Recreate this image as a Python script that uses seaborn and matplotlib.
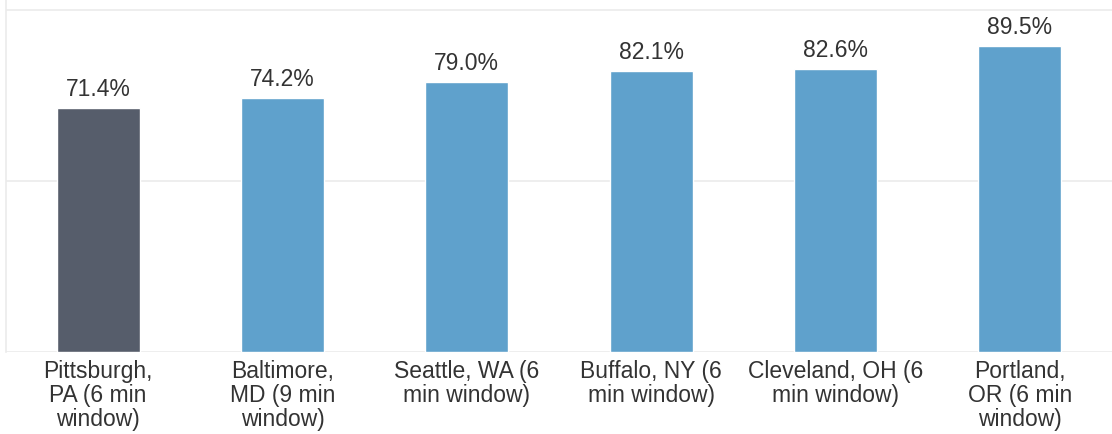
import matplotlib
matplotlib.use("Agg")
import matplotlib.pyplot as plt
import pandas as pd
import seaborn as sns
from matplotlib.ticker import FixedLocator

cities = [
    "Pittsburgh,\nPA (6 min\nwindow)",
    "Baltimore,\nMD (9 min\nwindow)",
    "Seattle, WA (6\nmin window)",
    "Buffalo, NY (6\nmin window)",
    "Cleveland, OH (6\nmin window)",
    "Portland,\nOR (6 min\nwindow)",
]
rates = [71.4, 74.2, 79.0, 82.1, 82.6, 89.5]
highlight = ["yes", "no", "no", "no", "no", "no"]

TEXT = "#333333"
GRID = "#ebebeb"
FS = 16.5

sns.set_theme(style="white")
plt.rcParams["font.family"] = ["Liberation Sans", "DejaVu Sans"]

df = pd.DataFrame({"city": cities, "rate": rates, "highlight": highlight})

fig = plt.figure(figsize=(11.12, 4.34), dpi=100)
ax = fig.add_axes([6 / 1112, 82 / 434, 1 - 6 / 1112, 352 / 434])

sns.barplot(
    data=df, x="city", y="rate", hue="highlight",
    palette={"yes": "#565d6b", "no": "#5fa1cc"}, saturation=1,
    width=0.45, dodge=False, legend=False, ax=ax, zorder=3,
)

for c in ax.containers:
    ax.bar_label(c, labels=[f"{v:.1f}%" for v in c.datavalues],
                 padding=5, fontsize=FS, color=TEXT)

ax.set_ylim(0, 102.9)
ax.set_xlim(-0.5, len(cities) - 0.5)
ax.set_yticks([0, 50, 100])
ax.yaxis.grid(True, color=GRID, linewidth=1.2, zorder=0)
ax.set_yticklabels([])
ax.tick_params(axis="y", length=0)
ax.xaxis.set_minor_locator(FixedLocator([i - 0.5 for i in range(len(cities) + 1)]))
ax.tick_params(axis="x", which="major", length=0, pad=6, labelsize=FS, labelcolor=TEXT)
ax.tick_params(axis="x", which="minor", length=10, color=GRID, width=1.2, direction="out")
for lbl in ax.get_xticklabels():
    lbl.set_linespacing(1.05)
ax.set_xlabel("")
ax.set_ylabel("")

for side in ["top", "right", "bottom"]:
    ax.spines[side].set_visible(False)
ax.spines["left"].set_color(GRID)
ax.spines["left"].set_linewidth(1.2)

fig.savefig("out.png", dpi=100)
